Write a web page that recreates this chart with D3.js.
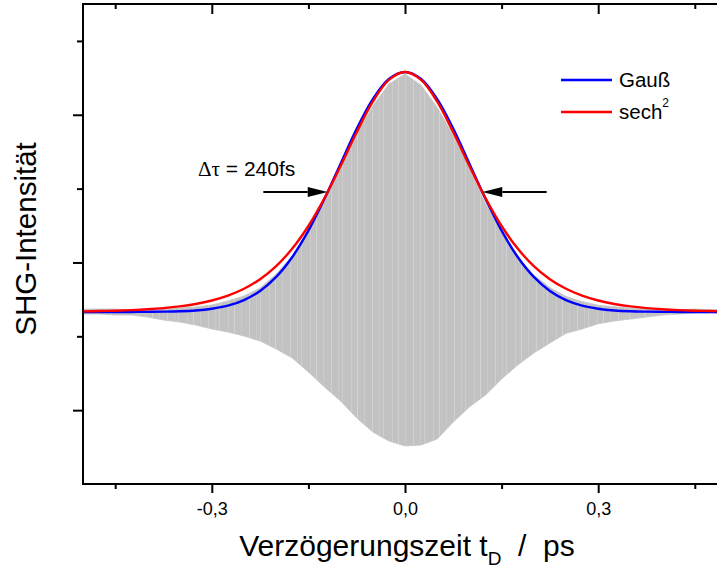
<!DOCTYPE html>
<html>
<head>
<meta charset="utf-8">
<script src="https://cdn.jsdelivr.net/npm/d3@7"></script>
<style>
  html, body { margin: 0; padding: 0; background: #fff; }
  svg { display: block; font-family: "Liberation Sans", Arial, sans-serif; }
</style>
</head>
<body>
<svg id="chart" width="717" height="569"></svg>
<script>
// Delay grid (ps) on which the measured envelopes and the fits are listed
const delayPs = [-0.5, -0.475, -0.45, -0.425, -0.4, -0.375, -0.35, -0.325, -0.3, -0.275,
  -0.25, -0.225, -0.2, -0.175, -0.15, -0.125, -0.1, -0.075, -0.05, -0.025, 0,
  0.025, 0.05, 0.075, 0.1, 0.125, 0.15, 0.175, 0.2, 0.225, 0.25,
  0.275, 0.3, 0.325, 0.35, 0.375, 0.4, 0.425, 0.45, 0.475, 0.5];

// Interferometric SHG trace: upper and lower fringe envelopes (arb. units)
const signalUpper = [2.370, 2.370, 2.370, 2.356, 2.370, 2.370, 2.383, 2.397, 2.424, 2.478,
  2.546, 2.654, 2.844, 3.087, 3.412, 3.819, 4.279, 4.739, 5.119, 5.416, 5.552,
  5.400, 5.100, 4.720, 4.270, 3.800, 3.400, 3.070, 2.830, 2.660, 2.540,
  2.470, 2.420, 2.400, 2.380, 2.370, 2.370, 2.360, 2.370, 2.360, 2.360];
const signalLower = [2.302, 2.302, 2.288, 2.288, 2.261, 2.221, 2.194, 2.153, 2.099, 2.058,
  2.004, 1.936, 1.828, 1.706, 1.517, 1.313, 1.124, 0.894, 0.704, 0.582, 0.515,
  0.528, 0.609, 0.840, 1.043, 1.205, 1.422, 1.611, 1.774, 1.909, 2.040,
  2.100, 2.170, 2.207, 2.234, 2.261, 2.288, 2.302, 2.315, 2.315, 2.315];

// Fitted envelopes (arb. units)
const gaussFit = [2.330, 2.330, 2.330, 2.330, 2.331, 2.334, 2.339, 2.350, 2.373, 2.415,
  2.490, 2.614, 2.804, 3.074, 3.430, 3.862, 4.338, 4.809, 5.211, 5.484, 5.580,
  5.484, 5.211, 4.809, 4.338, 3.862, 3.430, 3.074, 2.804, 2.614, 2.490,
  2.415, 2.373, 2.350, 2.339, 2.334, 2.331, 2.330, 2.330, 2.330, 2.330];
const sechFit = [2.338, 2.342, 2.347, 2.355, 2.366, 2.382, 2.405, 2.438, 2.485, 2.551,
  2.644, 2.774, 2.951, 3.188, 3.494, 3.872, 4.307, 4.763, 5.178, 5.473, 5.580,
  5.473, 5.178, 4.763, 4.307, 3.872, 3.494, 3.188, 2.951, 2.774, 2.644,
  2.551, 2.485, 2.438, 2.405, 2.382, 2.366, 2.355, 2.347, 2.342, 2.338];

// Pulse width annotation (FWHM in ps) and the level of half maximum
const fwhmPs = 0.24;
const halfMaxLevel = 3.955;

// Axis ticks
const xMajorTicks = [-0.3, 0, 0.3];
const xMinorTicks = [-0.45, -0.15, 0.15, 0.45];
const yMajorTicks = [1, 3, 5];
const yMinorTicks = [2, 4, 6];

const legendItems = [
  { label: "Gauß", sup: "", color: "#0000ff" },
  { label: "sech", sup: "2", color: "#ff0000" }
];

const svg = d3.select("#chart");
const plot = { left: 83, right: 727, top: 4, bottom: 484 };

const x = d3.scaleLinear().domain([-0.5, 0.5]).range([plot.left, plot.right]);
const y = d3.scaleLinear().domain([0, 6.5]).range([plot.bottom, plot.top]);

const defs = svg.append("defs");
defs.append("clipPath").attr("id", "plotClip")
  .append("rect")
  .attr("x", plot.left).attr("y", plot.top)
  .attr("width", plot.right - plot.left).attr("height", plot.bottom - plot.top);

// faint vertical streaks of the densely sampled fringes
const streaks = defs.append("pattern").attr("id", "fringes")
  .attr("patternUnits", "userSpaceOnUse")
  .attr("width", 41).attr("height", 600);
streaks.append("rect").attr("width", 41).attr("height", 600).attr("fill", "#c2c2c2");
[[3, 0.55], [10, 0.3], [14, 0.45], [23, 0.35], [29, 0.6], [36, 0.3]].forEach(([sx, op]) => {
  streaks.append("rect").attr("x", sx).attr("width", 1).attr("height", 600)
    .attr("fill", "#dedede").attr("opacity", op);
});

const body = svg.append("g").attr("clip-path", "url(#plotClip)");

// grey fringe trace
const band = d3.area()
  .x((d, i) => x(delayPs[i]))
  .y0((d, i) => y(signalLower[i]))
  .y1((d, i) => y(signalUpper[i]));
body.append("path")
  .datum(delayPs)
  .attr("d", band)
  .attr("fill", "url(#fringes)")
  .attr("stroke", "#c4c4c4")
  .attr("stroke-width", 0.8);

// fit curves
const fitLine = vals => d3.line()
  .x((d, i) => x(delayPs[i]))
  .y((d, i) => y(vals[i]))
  .curve(d3.curveCatmullRom.alpha(0.5))(delayPs);

body.append("path").attr("d", fitLine(gaussFit))
  .attr("fill", "none").attr("stroke", "#0000ff").attr("stroke-width", 2.4);
body.append("path").attr("d", fitLine(sechFit))
  .attr("fill", "none").attr("stroke", "#ff0000").attr("stroke-width", 2.4);

// axes
const fmt = d3.formatLocale({ decimal: ",", thousands: ".", grouping: [3], currency: ["", ""], minus: "-" }).format(".1f");

function styleAxis(g) {
  g.selectAll(".domain").remove();
  g.selectAll(".tick line").attr("stroke", "#000").attr("stroke-width", 2);
  g.selectAll(".tick text").attr("fill", "#000");
}

// bottom
svg.append("g").attr("transform", `translate(0,${plot.bottom})`)
  .call(d3.axisBottom(x).tickValues(xMajorTicks).tickSize(9).tickPadding(9).tickFormat(fmt))
  .call(styleAxis)
  .call(g => g.selectAll(".tick text").attr("font-size", 18).attr("font-family", "Liberation Sans, Arial, sans-serif"));
svg.append("g").attr("transform", `translate(0,${plot.bottom})`)
  .call(d3.axisBottom(x).tickValues(xMinorTicks).tickSize(5).tickFormat(""))
  .call(styleAxis);
// top (inward)
svg.append("g").attr("transform", `translate(0,${plot.top})`)
  .call(d3.axisBottom(x).tickValues(xMajorTicks).tickSize(10).tickFormat(""))
  .call(styleAxis);
svg.append("g").attr("transform", `translate(0,${plot.top})`)
  .call(d3.axisBottom(x).tickValues(xMinorTicks).tickSize(5).tickFormat(""))
  .call(styleAxis);
// left
svg.append("g").attr("transform", `translate(${plot.left},0)`)
  .call(d3.axisLeft(y).tickValues(yMajorTicks).tickSize(10).tickFormat(""))
  .call(styleAxis);
svg.append("g").attr("transform", `translate(${plot.left},0)`)
  .call(d3.axisLeft(y).tickValues(yMinorTicks).tickSize(6).tickFormat(""))
  .call(styleAxis);

// frame
svg.append("rect")
  .attr("x", plot.left).attr("y", plot.top)
  .attr("width", plot.right - plot.left).attr("height", plot.bottom - plot.top)
  .attr("fill", "none").attr("stroke", "#000").attr("stroke-width", 2);

// axis titles
const xt = svg.append("text")
  .attr("x", 407).attr("y", 556)
  .attr("text-anchor", "middle")
  .attr("font-size", 30)
  .attr("fill", "#000");
xt.append("tspan").text("Verzögerungszeit t");
xt.append("tspan").attr("font-size", 19).attr("dy", 9).text("D");
xt.append("tspan").attr("dy", -9).attr("xml:space", "preserve").text("  /  ps");

svg.append("text")
  .attr("transform", "translate(36,239) rotate(-90)")
  .attr("text-anchor", "middle")
  .attr("font-size", 29.5)
  .attr("fill", "#000")
  .text("SHG-Intensität");

// legend
const leg = svg.append("g");
legendItems.forEach((d, i) => {
  const yy = 80 + i * 32;
  leg.append("line")
    .attr("x1", 561).attr("x2", 612).attr("y1", yy).attr("y2", yy)
    .attr("stroke", d.color).attr("stroke-width", 2.4);
  const t = leg.append("text").attr("x", 619).attr("y", yy + 7)
    .attr("font-size", 20.5).attr("fill", "#000");
  t.append("tspan").text(d.label);
  if (d.sup) t.append("tspan").attr("font-size", 12).attr("dy", -12).text(d.sup);
});

// FWHM annotation with arrows pointing at the half-maximum crossings
const arrowY = y(halfMaxLevel);
const drawArrow = (fromT, toT) => {
  const x0 = x(fromT), x1 = x(toT);
  const dir = Math.sign(x1 - x0);
  const headLen = 20, headHalf = 5;
  svg.append("line")
    .attr("x1", x0).attr("x2", x1 - dir * headLen)
    .attr("y1", arrowY).attr("y2", arrowY)
    .attr("stroke", "#000").attr("stroke-width", 2);
  svg.append("path")
    .attr("d", `M${x1},${arrowY} L${x1 - dir * headLen},${arrowY - headHalf} L${x1 - dir * headLen},${arrowY + headHalf} Z`)
    .attr("fill", "#000");
};
drawArrow(-fwhmPs / 2 - 0.1, -fwhmPs / 2);
drawArrow(fwhmPs / 2 + 0.1, fwhmPs / 2);

const ann = svg.append("text").attr("x", 198).attr("y", 176)
  .attr("font-size", 21).attr("fill", "#000");
ann.append("tspan").attr("font-family", "Liberation Serif, Times New Roman, serif").text("Δτ");
ann.append("tspan").attr("xml:space", "preserve").text(` = ${Math.round(fwhmPs * 1000)}fs`);
</script>
</body>
</html>
